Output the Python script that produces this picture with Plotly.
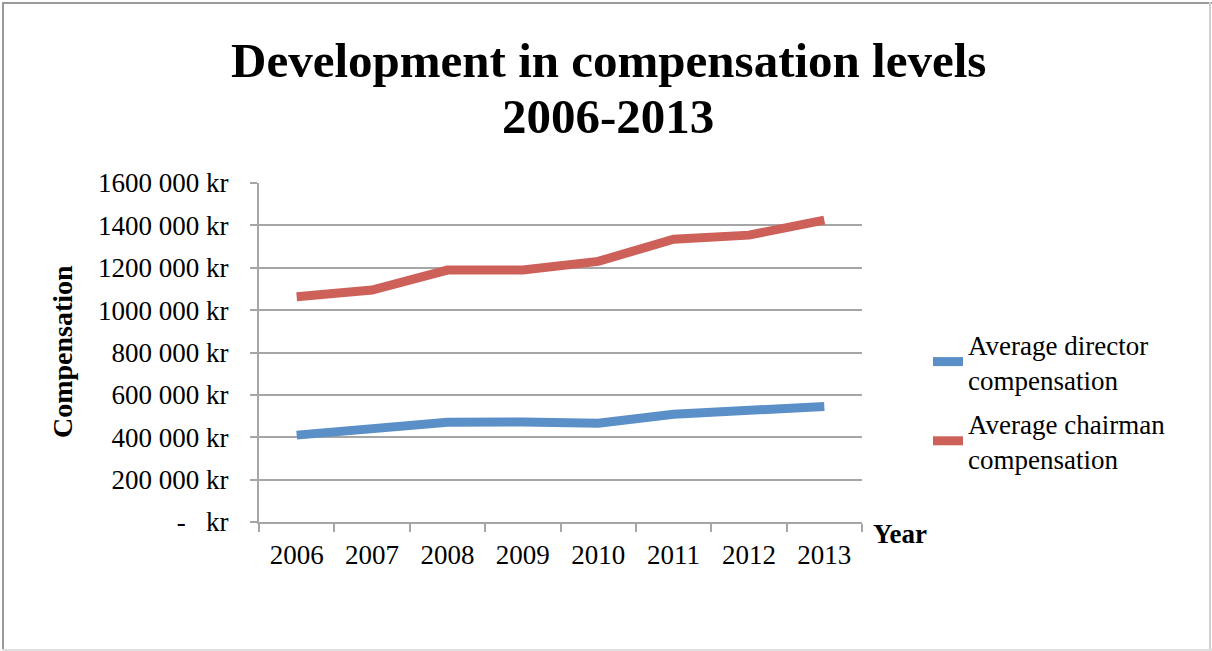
import plotly.graph_objects as go

years = ["2006", "2007", "2008", "2009", "2010", "2011", "2012", "2013"]
director = [410000, 441000, 471000, 472000, 466000, 509000, 532000, 545000]
chairman = [1063000, 1095000, 1189000, 1189000, 1230000, 1335000, 1354000, 1425000]
ytickvals = [0, 200000, 400000, 600000, 800000, 1000000, 1200000, 1400000, 1600000]
yticktext = ["-   kr", "200 000 kr", "400 000 kr", "600 000 kr", "800 000 kr",
             "1000 000 kr", "1200 000 kr", "1400 000 kr", "1600 000 kr"]

W, H = 1212, 651
L, R, T, B = 259, 862, 183, 522
pw, ph = R - L, B - T


def px(x):
    return (x - L) / pw


def py(y):
    return (B - y) / ph


SERIF = "Liberation Serif, Times New Roman, serif"
GRID = "#a6a6a6"

fig = go.Figure()
fig.add_trace(go.Scatter(x=years, y=director, mode="lines", name="Average director<br>compensation",
                         legendgroup="d", line=dict(color="#5B8FC8", width=9)))
fig.add_trace(go.Scatter(x=years, y=chairman, mode="lines", name="Average chairman<br>compensation",
                         legendgroup="c", line=dict(color="#CD6059", width=9)))

fig.update_layout(
    width=W, height=H,
    margin=dict(l=L, r=W - R, t=T, b=H - B),
    paper_bgcolor="white", plot_bgcolor="white",
    font=dict(family=SERIF, size=27, color="black"),
    showlegend=True,
    legend=dict(x=px(928), y=py(320), xanchor="left", yanchor="top",
                font=dict(family=SERIF, size=27), traceorder="grouped", tracegroupgap=6,
                bgcolor="rgba(0,0,0,0)"),
    xaxis=dict(type="category", range=[-0.5, len(years) - 0.5], showgrid=False,
               showline=True, linecolor=GRID, linewidth=2,
               ticks="outside", tickson="boundaries", ticklen=8, tickcolor=GRID, tickwidth=2,
               ticklabelstandoff=8, tickfont=dict(family=SERIF, size=27)),
    yaxis=dict(range=[0, 1600000], tickvals=ytickvals, ticktext=yticktext,
               showgrid=True, gridcolor=GRID, gridwidth=2, zeroline=False,
               showline=True, linecolor=GRID, linewidth=2,
               ticks="outside", ticklen=7, tickcolor=GRID, tickwidth=2,
               ticklabelstandoff=16, tickfont=dict(family=SERIF, size=27)),
    annotations=[
        dict(text="<b>Development in compensation levels</b>", x=px(608), y=py(60),
             xref="paper", yref="paper", xanchor="center", yanchor="middle", showarrow=False,
             font=dict(family=SERIF, size=49)),
        dict(text="<b>2006-2013</b>", x=px(608), y=py(117),
             xref="paper", yref="paper", xanchor="center", yanchor="middle", showarrow=False,
             font=dict(family=SERIF, size=49)),
        dict(text="<b>Compensation</b>", x=px(62), y=py(352), textangle=-90,
             xref="paper", yref="paper", xanchor="center", yanchor="middle", showarrow=False,
             font=dict(family=SERIF, size=28)),
        dict(text="<b>Year</b>", x=px(900), y=py(534),
             xref="paper", yref="paper", xanchor="center", yanchor="middle", showarrow=False,
             font=dict(family=SERIF, size=27)),
    ],
    shapes=[
        dict(type="line", xref="paper", yref="paper", x0=px(3), x1=px(3), y0=py(2), y1=py(652),
             line=dict(color="#9a9a9a", width=2)),
        dict(type="line", xref="paper", yref="paper", x0=px(2), x1=px(1212), y0=py(3), y1=py(3),
             line=dict(color="#9a9a9a", width=2)),
        dict(type="line", xref="paper", yref="paper", x0=px(1210), x1=px(1210), y0=py(2), y1=py(652),
             line=dict(color="#d0d0d0", width=2)),
        dict(type="line", xref="paper", yref="paper", x0=px(2), x1=px(1212), y0=py(650), y1=py(650),
             line=dict(color="#e0e0e0", width=2)),
    ],
)

fig.write_html("out.html")
